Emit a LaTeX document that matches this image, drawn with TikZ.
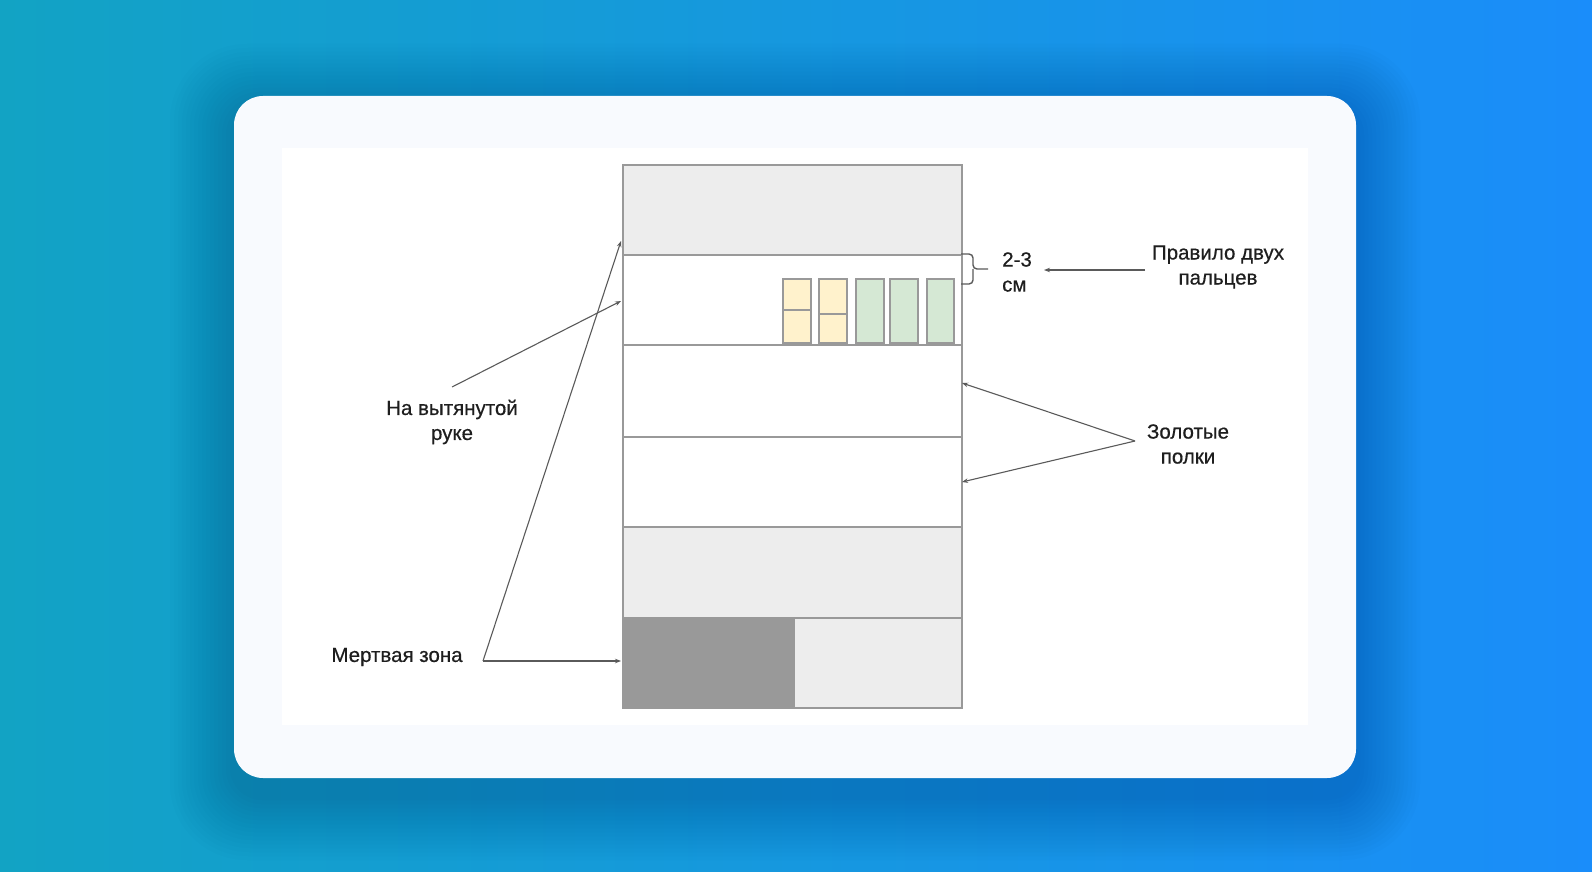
\documentclass[tikz,border=0pt]{standalone}
\usepackage{fontspec}
\setmainfont{Liberation Sans}
\newfontfamily\lblfont{Liberation Sans}[FakeBold=0.5]
\usetikzlibrary{arrows.meta}
\definecolor{bgL}{HTML}{12A3C4}
\definecolor{bgR}{HTML}{1A8DFA}
\definecolor{shadowc}{HTML}{0A3F7A}
\definecolor{cardc}{HTML}{F8FAFE}
\definecolor{linec}{HTML}{999999}
\definecolor{lightg}{HTML}{EDEDED}
\definecolor{darkg}{HTML}{999999}
\definecolor{yel}{HTML}{FFF2CC}
\definecolor{grn}{HTML}{D5E8D4}
\definecolor{arrc}{HTML}{5A5A5A}
\definecolor{txt}{HTML}{1E1E1E}
\tikzset{
  shelf/.style={draw=linec, line width=1.7pt, minimum width=339pt, inner sep=0pt, anchor=north west},
  prod/.style={draw=linec, line width=1.7pt, minimum width=28pt, minimum height=64pt, inner sep=0pt, anchor=south west},
  lbl/.style={text=txt, font=\lblfont\fontsize{20.5}{25}\selectfont, align=center, inner sep=0pt},
  conn/.style={draw=arrc, line width=1.1pt},
  arr/.style={conn, -{Stealth[length=6pt,width=4.5pt]}}
}
\begin{document}
\begin{tikzpicture}[x=1pt,y=-1pt]
\useasboundingbox (0,0) rectangle (1592,872);
% background
\shade[left color=bgL, right color=bgR] (0,0) rectangle (1592,872);
% soft shadow
\foreach \i in {1,...,16} {
  \fill[shadowc, opacity=0.02, rounded corners={29pt+\i*3pt}]
    ({234-\i*4},{96+12-\i*4}) rectangle ({1356+\i*4},{778+18+\i*4});
}
% card
\fill[cardc, rounded corners=29pt] (234,96) rectangle (1356,778);
\fill[white] (282,148) rectangle (1308,725);
% shelves
\node[shelf, fill=lightg, minimum height=90pt] (s1) at (622,164) {};
\node[shelf, fill=white, minimum height=90pt] (s2) at (622,254) {};
\node[shelf, fill=white, minimum height=92pt] (s3) at (622,344) {};
\node[shelf, fill=white, minimum height=90pt] (s4) at (622,436) {};
\node[shelf, fill=lightg, minimum height=91pt] (s5) at (622,526) {};
\node[shelf, fill=lightg, minimum height=90pt] (s6) at (622,617) {};
\node[draw=linec, line width=1.7pt, fill=darkg, minimum width=171pt, minimum height=90pt, inner sep=0pt, anchor=north west] (dead) at (622,617) {};
% products
\node[prod, fill=yel] (y1) at (782,344) {};
\node[prod, fill=yel] (y2) at (818,344) {};
\node[prod, fill=grn] (g1) at (855,344) {};
\node[prod, fill=grn] (g2) at (889,344) {};
\node[prod, fill=grn, minimum width=27pt] (g3) at (926,344) {};
\draw[linec, line width=1.7pt] (y1.west |- 0,310) -- (y1.east |- 0,310);
\draw[linec, line width=1.7pt] (y2.west |- 0,314) -- (y2.east |- 0,314);
% brace
\draw[conn, line width=1.4pt, rounded corners=4pt] (961,254) -- (973,254) -- (973,269) -- (988,269);
\draw[conn, line width=1.4pt, rounded corners=4pt] (961,284) -- (973,284) -- (973,269);
% labels
\node[lbl, align=left, anchor=west] (cm) at (1002,272) {2-3\\см};
\node[lbl] (rule) at (1218,267) {Правило двух\\пальцев};
\node[lbl] (gold) at (1188,444) {Золотые\\полки};
\node[lbl] (arm) at (452,422) {На вытянутой\\руке};
\node[lbl] (dz) at (397,657) {Мертвая зона};
% connector endpoints
\coordinate (armS) at (452,387);
\coordinate (armT) at (621,301);
\coordinate (dzS) at (483,661);
\coordinate (dzT1) at (621,241);
\coordinate (dzT2) at (621,661);
\coordinate (ruleS) at (1145,270);
\coordinate (ruleT) at (1044,270);
\coordinate (goldS) at (1135,441);
\coordinate (goldT1) at (962,383);
\coordinate (goldT2) at (962,482);
\draw[arr] (armS) -- (armT);
\draw[arr] (dzS) -- (dzT1);
\draw[arr] (dzS) -- (dzT2);
\draw[arr] (ruleS) -- (ruleT);
\draw[arr] (goldS) -- (goldT1);
\draw[arr] (goldS) -- (goldT2);
\end{tikzpicture}
\end{document}
